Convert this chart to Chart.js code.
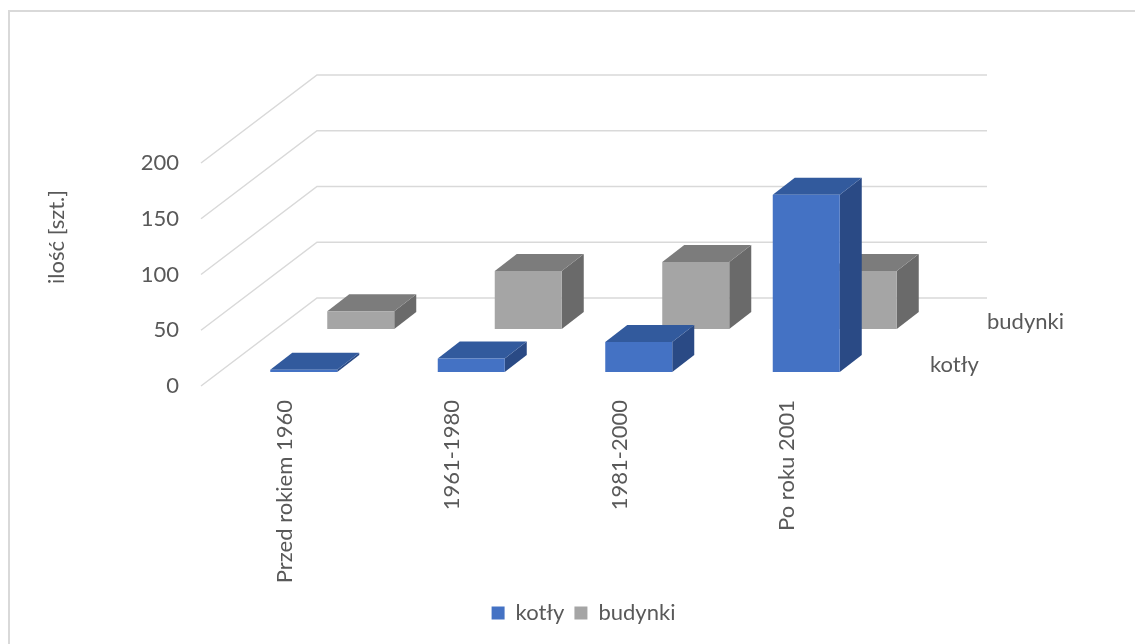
<!DOCTYPE html>
<html>
<head>
<meta charset="utf-8">
<script src="https://cdn.jsdelivr.net/npm/chart.js@4.4.1/dist/chart.umd.min.js"></script>
<style>
  html, body { margin: 0; padding: 0; background: #fff; }
  #wrap { position: relative; width: 1135px; height: 644px; overflow: hidden; }
  #frame { position: absolute; left: 8px; top: 10px; width: 1300px; height: 800px;
           border-top: 2px solid #d9d9d9; border-left: 2px solid #d9d9d9; }
  canvas { position: absolute; left: 0; top: 0; }
</style>
</head>
<body>
<div id="wrap">
  <div id="frame"></div>
  <canvas id="chart" width="1135" height="644"></canvas>
</div>
<script>
// data
const categories = ['Przed rokiem 1960', '1961-1980', '1981-2000', 'Po roku 2001'];
const kotly = [2, 12, 27, 159];
const budynki = [16, 52, 60, 52];
const yTicks = [0, 50, 100, 150, 200];
const seriesNames = ['kotły', 'budynki'];

const FONT = 'Lato';
const FONT_SIZE = 22;
const TEXT = '#595959';

// fake 3D: wall depth, row offsets, bar depth
const WALL = { dx: 116, dy: -88 };
const ROWS = [{ dx: 19, dy: -14 }, { dx: 76, dy: -57 }];
const BAR_DEPTH = { dx: 22, dy: -17 };
const faces = [
  { top: '#325a9d', side: '#2a4a85' },
  { top: '#7c7c7c', side: '#6a6a6a' }
];

const depthPlugin = {
  id: 'depth3d',
  beforeDatasetsDraw(chart) {
    const { ctx, chartArea: a, scales: { y } } = chart;
    ctx.save();
    ctx.strokeStyle = '#d9d9d9';
    ctx.lineWidth = 1.5;
    yTicks.forEach(v => {
      const py = y.getPixelForValue(v);
      ctx.beginPath();
      ctx.moveTo(a.left, py);
      ctx.lineTo(a.left + WALL.dx, py + WALL.dy);
      ctx.lineTo(a.right + WALL.dx, py + WALL.dy);
      ctx.stroke();
    });
    ctx.restore();
  },
  beforeDatasetDraw(chart, args) {
    const ctx = chart.ctx;
    const row = ROWS[args.index];
    const f = faces[args.index];
    ctx.save();
    ctx.translate(row.dx, row.dy);
    args.meta.data.forEach(bar => {
      const { x, y, base, width } = bar.getProps(['x', 'y', 'base', 'width'], true);
      const l = x - width / 2, r = x + width / 2;
      // right side
      ctx.fillStyle = f.side;
      ctx.beginPath();
      ctx.moveTo(r, y);
      ctx.lineTo(r + BAR_DEPTH.dx, y + BAR_DEPTH.dy);
      ctx.lineTo(r + BAR_DEPTH.dx, base + BAR_DEPTH.dy);
      ctx.lineTo(r, base);
      ctx.closePath();
      ctx.fill();
      // top
      ctx.fillStyle = f.top;
      ctx.beginPath();
      ctx.moveTo(l, y);
      ctx.lineTo(l + BAR_DEPTH.dx, y + BAR_DEPTH.dy);
      ctx.lineTo(r + BAR_DEPTH.dx, y + BAR_DEPTH.dy);
      ctx.lineTo(r, y);
      ctx.closePath();
      ctx.fill();
    });
  },
  afterDatasetDraw(chart) {
    chart.ctx.restore();
  },
  afterDraw(chart) {
    const { ctx, chartArea: a, scales: { y } } = chart;
    const base = y.getPixelForValue(0);
    ctx.save();
    ctx.fillStyle = TEXT;
    ctx.font = FONT_SIZE + 'px ' + FONT;
    // series names along the depth axis
    ctx.textAlign = 'left';
    ctx.textBaseline = 'alphabetic';
    seriesNames.forEach((name, i) => {
      ctx.fillText(name, a.right + ROWS[i].dx + 40, base + ROWS[i].dy);
    });
    // y axis title
    ctx.translate(57, 237);
    ctx.rotate(-Math.PI / 2);
    ctx.textAlign = 'center';
    ctx.textBaseline = 'middle';
    ctx.fillText('ilość [szt.]', 0, 0);
    ctx.restore();
  }
};

const ctx = document.getElementById('chart').getContext('2d');

const chart = new Chart(ctx, {
  type: 'bar',
  data: {
    labels: categories,
    datasets: [
      { label: seriesNames[0], data: kotly, backgroundColor: '#4472c4', clip: false },
      { label: seriesNames[1], data: budynki, backgroundColor: '#a5a5a5', clip: false }
    ]
  },
  options: {
    responsive: false,
    animation: false,
    layout: { padding: { left: 32, top: 163, right: 0, bottom: 10 } },
    datasets: {
      bar: { grouped: false, barPercentage: 0.4, categoryPercentage: 1 }
    },
    plugins: {
      tooltip: { enabled: false },
      legend: {
        position: 'bottom',
        labels: {
          boxWidth: 13, boxHeight: 13, padding: 10,
          color: TEXT, font: { family: FONT, size: FONT_SIZE }
        }
      }
    },
    scales: {
      x: {
        grid: { display: false, drawTicks: false },
        border: { display: false },
        ticks: {
          minRotation: 90, maxRotation: 90, padding: 14,
          color: TEXT, font: { family: FONT, size: FONT_SIZE }
        },
        afterFit: (scale) => { scale.height = 206; }
      },
      y: {
        min: 0, max: 200,
        grid: { display: false, drawTicks: false },
        border: { display: false },
        ticks: {
          stepSize: 50, padding: 22,
          color: TEXT, font: { family: FONT, size: FONT_SIZE }
        },
        afterFit: (scale) => { scale.width = 169; }
      },
      // empty space on the right for the 3D depth and series names
      side: {
        position: 'right',
        grid: { display: false, drawTicks: false },
        border: { display: false },
        ticks: { display: false },
        afterFit: (scale) => { scale.width = 264; }
      }
    }
  },
  plugins: [depthPlugin]
});
</script>
</body>
</html>
